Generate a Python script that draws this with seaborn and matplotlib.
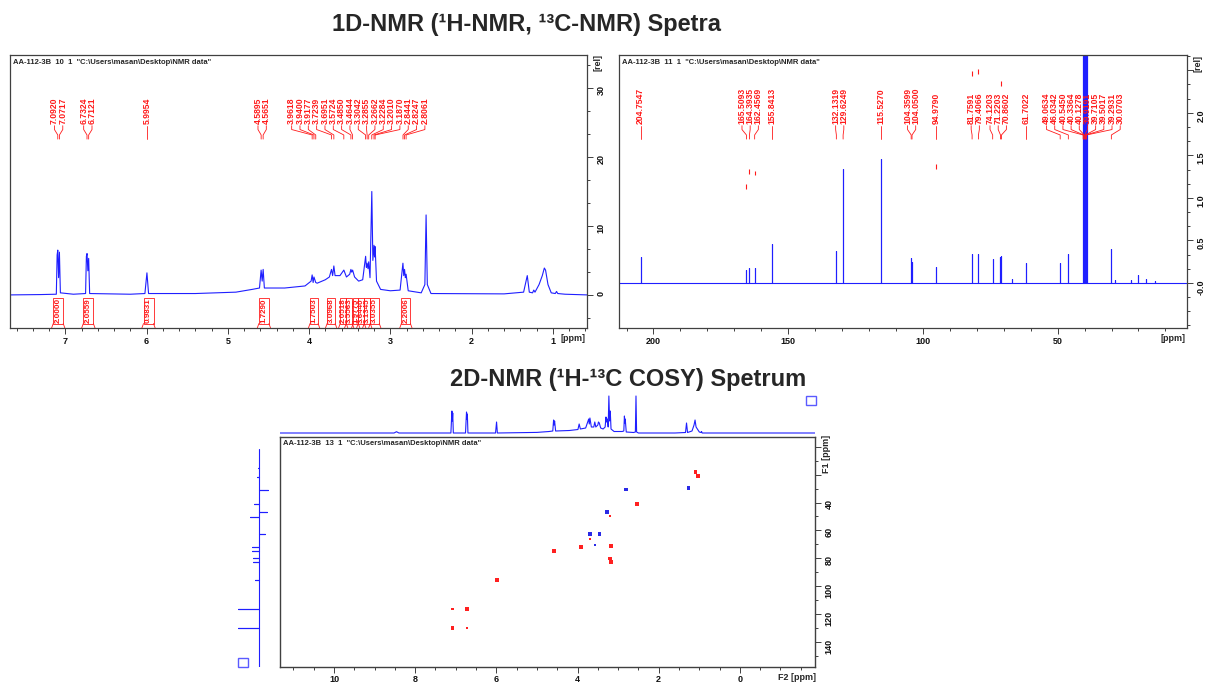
import matplotlib
matplotlib.use("Agg")
import matplotlib.pyplot as plt
import matplotlib.transforms as mtrans
from matplotlib.patches import Rectangle
from matplotlib.ticker import MultipleLocator, FixedLocator, FuncFormatter
import pandas as pd
import seaborn as sns

# ------------------------------------------------------------------ data
# 1H spectrum trace (ppm, relative intensity)
h1_ppm = [7.68, 7.30, 7.11, 7.100, 7.092, 7.082, 7.072, 7.060, 6.90,
          6.75, 6.740, 6.732, 6.722, 6.712, 6.700, 6.20,
          6.02, 5.995, 5.975, 5.40, 4.90, 4.70,
          4.61, 4.590, 4.577, 4.565, 4.55, 4.30, 4.05,
          3.975, 3.962, 3.950, 3.940, 3.918, 3.90, 3.80, 3.75,
          3.724, 3.710, 3.695, 3.68, 3.62, 3.572, 3.54, 3.50, 3.485, 3.475, 3.464, 3.44, 3.39, 3.34,
          3.304, 3.295, 3.286, 3.275, 3.266, 3.25, 3.228, 3.215, 3.201, 3.194, 3.187, 3.17, 3.12, 3.00, 2.88,
          2.845, 2.835, 2.825, 2.815, 2.806, 2.78, 2.62,
          2.575, 2.560, 2.545, 2.50, 1.60, 1.36,
          1.315, 1.29, 1.25, 1.235, 1.22, 1.17, 1.13, 1.105, 1.09, 1.06, 1.02, 0.97, 0.955, 0.94, 0.85, 0.58]
h1_int = [0, 0.05, 0.1, 5.8, 6.5, 2.5, 6.2, 0.3, 0.1,
          0.2, 5.6, 6.0, 3.5, 5.3, 0.2, 0.1,
          0.2, 3.2, 0.2, 0.2, 0.4, 0.8,
          1.0, 3.6, 2.0, 3.7, 1.0, 1.0, 1.3,
          2.0, 2.9, 1.8, 2.6, 1.8, 1.7, 2.2, 2.6,
          3.7, 2.8, 4.2, 2.8, 2.8, 3.6, 2.6, 3.0, 3.7, 3.3, 3.6, 2.6, 2.0, 2.2,
          5.6, 4.0, 4.6, 3.8, 4.8, 2.5, 15.0, 5.0, 7.2, 5.5, 7.0, 2.0, 0.8, 0.6, 0.7,
          4.6, 2.8, 3.7, 2.5, 3.0, 0.6, 0.3,
          1.5, 11.6, 1.5, 0.2, 0.15, 0.4,
          2.8, 0.4, 0.3, 0.7, 0.4, 1.5, 2.8, 3.9, 3.6, 1.5, 0.3, 0.2, 0.5, 0.2, 0.1, 0]

h1_peak_labels = [7.0920, 7.0717, 6.7324, 6.7121, 5.9954, 4.5895, 4.5651,
                  3.9618, 3.9400, 3.9177, 3.7239, 3.6951, 3.5724, 3.4850, 3.4644,
                  3.3042, 3.2855, 3.2662, 3.2284, 3.2010, 3.1870,
                  2.8441, 2.8247, 2.8061]

h1_int_start = [7.148, 6.778, 6.037, 4.617, 3.988, 3.778, 3.617, 3.543, 3.457, 3.395, 3.321, 3.247, 2.864]
h1_int_end = [7.025, 6.654, 5.914, 4.494, 3.889, 3.679, 3.543, 3.469, 3.395, 3.321, 3.247, 3.136, 2.753]
h1_int_values = ["2.0000", "2.0559", "0.9831", "1.7290", "1.7503", "3.0968", "2.0518",
                 "3.5563", "1.9775", "3.6440", "3.1345", "3.0355", "2.2006"]

# 13C stick spectrum (ppm, relative intensity)
c13_ppm = [204.75, 165.51, 164.39, 162.46, 155.84, 132.13, 129.62, 115.53, 104.36, 104.05,
           94.98, 81.76, 79.41, 74.12, 71.22, 70.86, 67.0, 61.70, 49.06, 46.03,
           40.55, 40.34, 40.13, 39.92, 39.71, 39.50, 39.29, 30.07, 28.6, 22.7, 20.1, 17.2, 14.0]
c13_int = [0.31, 0.15, 0.18, 0.18, 0.46, 0.37, 1.34, 1.46, 0.29, 0.25,
           0.19, 0.34, 0.34, 0.28, 0.30, 0.32, 0.05, 0.24, 0.24, 0.34,
           5.0, 5.0, 5.0, 5.0, 5.0, 5.0, 5.0, 0.40, 0.03, 0.04, 0.09, 0.05, 0.02]
c13_peak_labels = [204.7547, 165.5093, 164.3935, 162.4569, 155.8413, 132.1319, 129.6249,
                   115.5270, 104.3599, 104.0500, 94.9790, 81.7591, 79.4066, 74.1203,
                   71.2203, 70.8602, 61.7022, 49.0634, 46.0342, 40.5450, 40.3364,
                   40.1278, 39.9191, 39.7105, 39.5017, 39.2931, 30.0703]
c13_mark_ppm = [81.76, 79.41, 70.86, 164.39, 162.46, 165.51, 94.98]
c13_mark_top = [2.49, 2.51, 2.37, 1.34, 1.32, 1.16, 1.40]
c13_mark_bot = [2.43, 2.46, 2.32, 1.28, 1.27, 1.10, 1.34]

# 2D cross peaks (F2 = 1H ppm, F1 = 13C ppm)
hsqc_h = [7.085, 1.27, 2.81, 3.28, 3.70, 3.46, 3.56,
          1.09, 1.04, 2.54, 3.20, 3.70, 3.92, 3.18, 4.58, 3.20, 3.17, 5.99, 7.08, 6.72, 7.08, 6.72]
hsqc_c = [129.6, 29.8, 30.7, 46.9, 62.4, 62.4, 70.7,
          17.9, 21.2, 40.9, 49.8, 66.4, 71.7, 71.4, 75.0, 80.2, 82.6, 95.7, 116.4, 116.4, 130.2, 130.2]
hsqc_phase = ["neg"] * 7 + ["pos"] * 15
hsqc_size = ["small", "big", "big", "big", "big", "big", "small",
             "big", "big", "big", "small", "small", "big", "big", "big", "big", "big", "big",
             "small", "big", "big", "small"]

# projections of the 2D spectrum
proj_h_ppm = [11.33, 8.52, 8.46, 8.40, 7.12,
              7.095, 7.085, 7.075, 7.06, 6.76, 6.735, 6.725, 6.715, 6.70,
              6.02, 5.995, 5.975, 5.00, 4.70, 4.61, 4.59, 4.577, 4.565, 4.54,
              4.20, 3.99, 3.96, 3.93, 3.80, 3.725, 3.71, 3.695, 3.66, 3.60, 3.575, 3.55, 3.50, 3.485, 3.464, 3.43, 3.37,
              3.32, 3.30, 3.285, 3.266, 3.245, 3.228, 3.21, 3.194, 3.175, 3.10, 2.90,
              2.86, 2.845, 2.835, 2.825, 2.80, 2.62, 2.575, 2.56, 2.545, 2.50, 1.60,
              1.34, 1.315, 1.29, 1.18, 1.13, 1.105, 1.08, 1.00, 0.96, 0.945, 0.93, -1.85]
proj_h_int = [0, 0, 1.3, 0, 0,
              22, 12, 20, 0, 0, 21, 14, 19, 0,
              0, 11, 0, 0.6, 1.5, 2, 13, 8, 12, 2,
              2.5, 3.5, 9, 4, 5, 14, 9, 15, 6, 6, 11, 6, 8, 11, 10, 5, 4,
              6, 16, 11, 14, 6, 37, 12, 22, 4, 1.5, 1.5,
              2, 17, 10, 14, 1, 0.5, 1, 37, 1, 0, 0,
              0.5, 10, 0.5, 2, 8, 13, 6, 1, 0.5, 1.5, 0, 0]
proj_c_ppm = [15.5, 21.9, 30.7, 41.0, 47.0, 50.2, 62.9, 71.9, 74.8, 79.7, 82.6, 95.7, 116.4, 130.2]
proj_c_int = [1.5, 2.5, -9, 5, -8, 9, -6, 7, 7, 6, 6, 4, 21.5, 21.5]

headers = ['AA-112-3B  10  1  "C:\\Users\\masan\\Desktop\\NMR data"',
           'AA-112-3B  11  1  "C:\\Users\\masan\\Desktop\\NMR data"',
           'AA-112-3B  13  1  "C:\\Users\\masan\\Desktop\\NMR data"']
title_1d = "1D-NMR (\u00b9H-NMR, \u00b9\u00b3C-NMR) Spetra"
title_2d = "2D-NMR (\u00b9H-\u00b9\u00b3C COSY) Spetrum"

# ------------------------------------------------------------------ style
sns.set_style("white")
plt.rcParams["font.family"] = ["Liberation Sans", "DejaVu Sans"]
plt.rcParams["font.weight"] = "bold"

BLUE = "#1f1fff"
RED = "#ff1a1a"
FRAME = "#404040"
W, H = 1208, 682

fig = plt.figure(figsize=(W / 100, H / 100), dpi=100)
fig.patch.set_facecolor("white")


def rect(l, t, r, b):
    return [l / W, 1 - b / H, (r - l) / W, (b - t) / H]


def style_frame(ax, lw=0.9, xpad=2.5):
    ax.set_facecolor("white")
    for s in ax.spines.values():
        s.set_visible(True)
        s.set_color(FRAME)
        s.set_linewidth(lw)
    ax.yaxis.tick_right()
    ax.tick_params(axis="both", which="both", direction="out", colors=FRAME,
                   labelcolor="#111111", labelsize=6.5, width=0.7)
    ax.tick_params(which="major", length=4)
    ax.tick_params(which="minor", length=2.5)
    ax.tick_params(axis="y", which="both", left=False, right=True, labelleft=False,
                   labelright=True, labelrotation=90, pad=3)
    ax.tick_params(axis="x", which="both", top=False, bottom=True, pad=xpad)
    ax.set_xlabel("")
    ax.set_ylabel("")


def stick_path(pos, vals, start, end, descending=True):
    pairs = sorted(zip(pos, vals), reverse=descending)
    xs, ys = [start], [0.0]
    for p, v in pairs:
        xs += [p, p, p]
        ys += [0.0, v, 0.0]
    xs.append(end)
    ys.append(0.0)
    return xs, ys


def spread_labels(peaks, d):
    u = sorted(-p for p in peaks)
    clusters = [[v] for v in u]

    def place(c):
        m = sum(c) / len(c)
        n = len(c)
        return [m + (i - (n - 1) / 2) * d for i in range(n)]

    changed = True
    while changed:
        changed = False
        for i in range(len(clusters) - 1):
            a, b = place(clusters[i]), place(clusters[i + 1])
            if a[-1] + d > b[0] + 1e-9:
                clusters[i] = clusters[i] + clusters[i + 1]
                del clusters[i + 1]
                changed = True
                break
    pos = []
    for c in clusters:
        pos += place(c)
    return [(-a, -b) for a, b in zip(u, pos)]


def draw_peak_labels(ax, peaks, d):
    trans = mtrans.blended_transform_factory(ax.transData, ax.transAxes)
    for p, lp in spread_labels(peaks, d):
        ax.plot([lp, lp, p, p], [0.741, 0.727, 0.707, 0.692], transform=trans,
                color=RED, lw=0.6, clip_on=False)
        ax.text(lp, 0.746, f"{p:.4f}", transform=trans, rotation=90, ha="center",
                va="bottom", fontsize=6.2, color=RED)


# ------------------------------------------------------------------ 1H panel
ax1 = fig.add_axes(rect(10, 55, 587, 328))
sns.lineplot(x=h1_ppm, y=h1_int, ax=ax1, color=BLUE, lw=0.8, sort=False, estimator=None)
style_frame(ax1)
ax1.set_xlim(7.68, 0.58)
ax1.set_ylim(-4.8, 34.8)
ax1.xaxis.set_major_locator(FixedLocator([1, 2, 3, 4, 5, 6, 7]))
ax1.xaxis.set_minor_locator(MultipleLocator(0.2))
ax1.xaxis.set_major_formatter(FuncFormatter(lambda v, p: f"{v:.0f}"))
ax1.yaxis.set_major_locator(FixedLocator([0, 10, 20, 30]))
ax1.yaxis.set_minor_locator(MultipleLocator(10 / 3))
ax1.yaxis.set_major_formatter(FuncFormatter(lambda v, p: f"{v:.0f}"))
ax1.text(0.975, -0.022, "[ppm]", transform=ax1.transAxes, ha="center", va="top", fontsize=6.5)
ax1.text(1.011, 0.974, "[rel]", transform=ax1.transAxes, ha="left", va="center",
         rotation=90, fontsize=6.5)
ax1.text(0.006, 0.985, headers[0], transform=ax1.transAxes, ha="left", va="top", fontsize=5.5)
draw_peak_labels(ax1, h1_peak_labels, 8.3 / 81)
for s, e, v in zip(h1_int_start, h1_int_end, h1_int_values):
    ax1.add_patch(Rectangle((e, -4.15), s - e, 3.7, fill=False, ec=RED, lw=0.6))
    ax1.plot([s, s + 0.02], [-4.15, -4.8], color=RED, lw=0.6)
    ax1.plot([e, e - 0.02], [-4.15, -4.8], color=RED, lw=0.6)
    ax1.text((s + e) / 2, -2.3, v, rotation=90, ha="center", va="center", fontsize=5.8, color=RED)

# ------------------------------------------------------------------ 13C panel
ax2 = fig.add_axes(rect(619, 55, 1187, 328))
cx, cy = stick_path(c13_ppm, c13_int, 213, 2)
sns.lineplot(x=cx, y=cy, ax=ax2, color=BLUE, lw=0.8, sort=False, estimator=None)
style_frame(ax2)
ax2.set_xlim(212.8, 2.0)
ax2.set_ylim(-0.53, 2.68)
ax2.xaxis.set_major_locator(FixedLocator([200, 150, 100, 50]))
ax2.xaxis.set_minor_locator(MultipleLocator(10))
ax2.xaxis.set_major_formatter(FuncFormatter(lambda v, p: f"{v:.0f}"))
ax2.yaxis.set_major_locator(FixedLocator([0, 0.5, 1.0, 1.5, 2.0, 2.5]))
ax2.yaxis.set_minor_locator(MultipleLocator(0.5 / 3))
ax2.yaxis.set_major_formatter(FuncFormatter(
    lambda v, p: "-0.0" if abs(v) < 1e-9 else ("" if v > 2.2 else f"{v:.1f}")))
ax2.text(0.976, -0.022, "[ppm]", transform=ax2.transAxes, ha="center", va="top", fontsize=6.5)
ax2.text(1.011, 0.97, "[rel]", transform=ax2.transAxes, ha="left", va="center",
         rotation=90, fontsize=6.5)
ax2.text(0.006, 0.985, headers[1], transform=ax2.transAxes, ha="left", va="top", fontsize=5.5)
draw_peak_labels(ax2, c13_peak_labels, 8.2 / 2.7)
ax2.vlines(c13_mark_ppm, c13_mark_bot, c13_mark_top, color=RED, lw=0.8)

# ------------------------------------------------------------------ 2D panel
ax3 = fig.add_axes(rect(280, 437, 815, 667))
df = pd.DataFrame({"H": hsqc_h, "C": hsqc_c, "phase": hsqc_phase, "size": hsqc_size})
sns.scatterplot(data=df, x="H", y="C", hue="phase", size="size",
                palette={"pos": "#ff2020", "neg": "#2a2ae6"},
                sizes={"big": 7, "small": 2.5}, marker="s", linewidth=0,
                legend=False, ax=ax3)
style_frame(ax3, lw=1.0, xpad=1.5)
ax3.set_xlim(11.33, -1.85)
ax3.set_ylim(158, -7)
ax3.xaxis.set_major_locator(MultipleLocator(2))
ax3.xaxis.set_minor_locator(MultipleLocator(0.5))
ax3.xaxis.set_major_formatter(FuncFormatter(lambda v, p: "0" if abs(v) < 1e-9 else f"{v:.0f}"))
ax3.yaxis.set_major_locator(MultipleLocator(20))
ax3.yaxis.set_minor_locator(MultipleLocator(10))
ax3.yaxis.set_major_formatter(FuncFormatter(lambda v, p: f"{v:.0f}" if v >= 39 else ""))
ax3.set_xlabel("")
ax3.set_ylabel("")
ax3.text(0.966, -0.028, "F2 [ppm]", transform=ax3.transAxes, ha="center", va="top", fontsize=6.5)
ax3.text(1.013, 0.925, "F1 [ppm]", transform=ax3.transAxes, ha="left", va="center",
         rotation=90, fontsize=6.5)
ax3.text(0.006, 0.985, headers[2], transform=ax3.transAxes, ha="left", va="top", fontsize=5.5)

# top projection (1H)
axT = fig.add_axes(rect(280, 395, 815, 436))
sns.lineplot(x=proj_h_ppm, y=proj_h_int, ax=axT, color=BLUE, lw=0.8, sort=False, estimator=None)
axT.set_xlim(11.33, -1.85)
axT.set_ylim(-3, 38)
axT.axis("off")

# left projection (13C)
axL = fig.add_axes(rect(235, 437, 272, 667))
lc_ppm, lc_int = stick_path(proj_c_ppm, proj_c_int, 1.4, 158, descending=False)
sns.lineplot(x=lc_int, y=lc_ppm, ax=axL, color=BLUE, lw=0.8, sort=False, estimator=None)
axL.set_xlim(24, -13)
axL.set_ylim(158, -7)
axL.axis("off")

# small blue boxes
for (x0, y0) in [(806, 396), (238, 658)]:
    fig.add_artist(Rectangle((x0 / W, 1 - (y0 + 9) / H), 9.5 / W, 9 / H, transform=fig.transFigure,
                             fill=False, ec="#5a5aff", lw=1.0))

# ------------------------------------------------------------------ titles
fig.text(526 / W, 1 - 25 / H, title_1d, ha="center", va="center", fontsize=17, weight="bold")
fig.text(628 / W, 1 - 380 / H, title_2d, ha="center", va="center", fontsize=17, weight="bold")

fig.savefig("out.png", dpi=100, facecolor="white")
